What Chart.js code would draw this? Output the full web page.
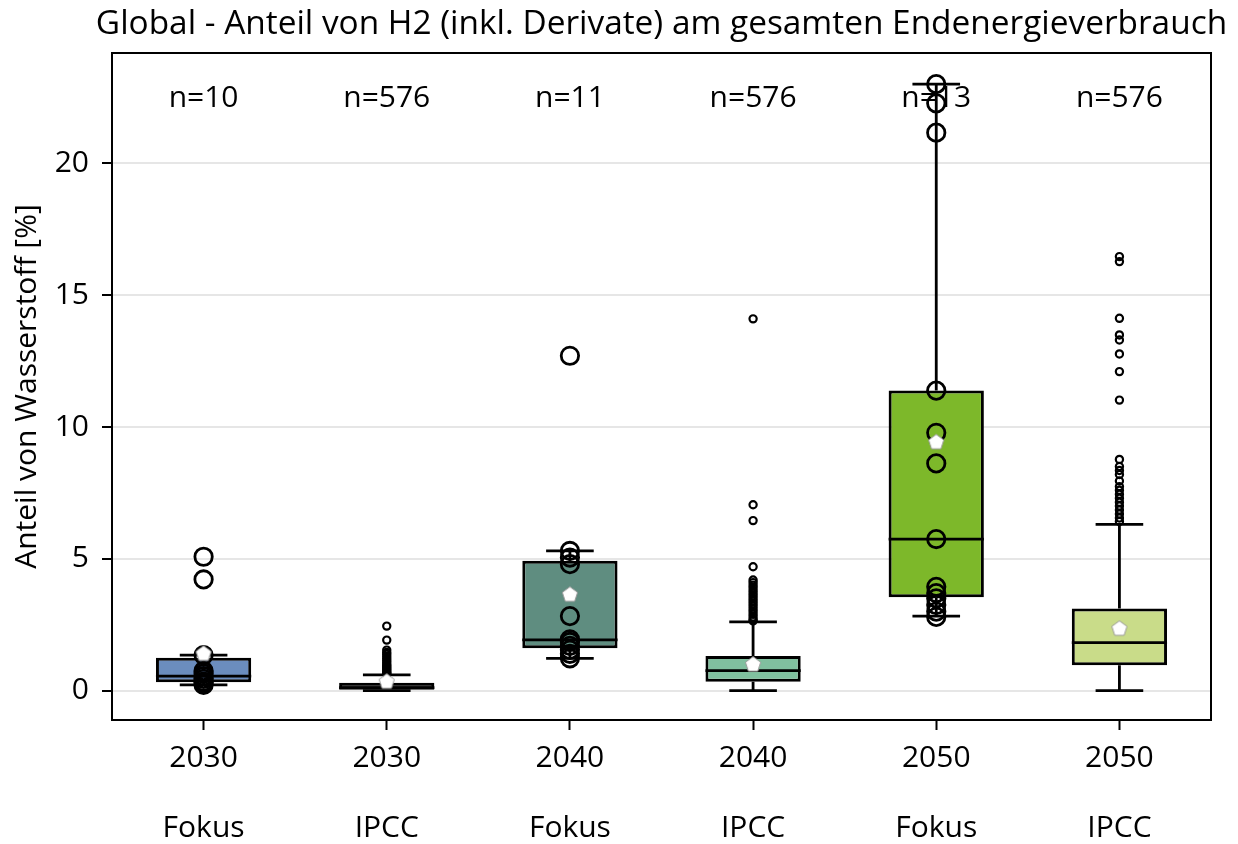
<!DOCTYPE html>
<html><head><meta charset="utf-8">
<script src="https://cdn.jsdelivr.net/npm/chart.js@4.4.1/dist/chart.umd.min.js"></script>
<style>html,body{margin:0;padding:0;background:#fff}</style>
</head><body>
<canvas id="c" width="1238" height="844"></canvas>
<script>
// ---------- data ----------
const titleText = 'Global - Anteil von H2 (inkl. Derivate) am gesamten Endenergieverbrauch';
const yTitle = 'Anteil von Wasserstoff [%]';
const years  = ['2030','2030','2040','2040','2050','2050'];
const groups = ['Fokus','IPCC','Fokus','IPCC','Fokus','IPCC'];
const nLabels = ['n=10','n=576','n=11','n=576','n=13','n=576'];
const nLabelValue = 22.47;

const q1          = [0.32, 0.00, 1.61, 0.34, 3.54, 0.97];
const median      = [0.55, 0.12, 1.93, 0.76, 5.75, 1.82];
const q3          = [1.25, 0.30, 4.93, 1.32, 11.38, 3.12];
const whiskerLow  = [0.22, 0.00, 1.23, 0.00, 2.83, 0.00];
const whiskerHigh = [1.35, 0.60, 5.30, 2.61, 23.00, 6.31];
const means       = [1.42, 0.36, 3.66, 1.01, 9.44, 2.37];

// all points of the focus studies (index 0, 2, 4)
const fokus2030 = [5.08, 4.22, 1.35, 0.75, 0.65, 0.55, 0.45, 0.35, 0.30, 0.22];
const fokus2040 = [12.70, 5.30, 5.05, 4.80, 2.83, 1.95, 1.85, 1.70, 1.55, 1.40, 1.23];
const fokus2050 = [23.00, 22.27, 21.16, 11.38, 9.78, 8.62, 5.75, 3.94, 3.70, 3.50, 3.25, 3.00, 2.80];

// outliers of the IPCC scenarios (index 1, 3, 5)
const ipcc2030 = [2.45, 1.92, 1.54, 1.45, 1.38, 1.30, 1.22, 1.15, 1.08, 1.00, 0.95, 0.90, 0.85, 0.80, 0.75, 0.70, 0.66, 0.63];
const ipcc2040 = [14.10, 7.05, 6.45, 4.70, 4.20, 4.10, 4.00, 3.90, 3.80, 3.70, 3.60, 3.50, 3.40, 3.30, 3.20, 3.10, 3.00, 2.90, 2.80, 2.70, 2.65];
const ipcc2050 = [16.46, 16.27, 14.12, 13.49, 13.30, 12.77, 12.10, 11.02, 8.77, 8.50, 8.35, 8.20, 7.95, 7.74, 7.60, 7.45, 7.30, 7.15, 7.00, 6.85, 6.70, 6.55, 6.42];

const yTicks = [0, 5, 10, 15, 20];
const yMin = -1.11, yMax = 24.18;

const boxColors = ['#6b8dbe', '#1a1a1a', '#5f8d80', '#80c09f', '#7db82a', '#c9dc89'];

// ---------- styling ----------
const FONT = "'Open Sans', 'Noto Sans', sans-serif";
const FS = 30;
const TITLE_FS = 33.4;
const LW = 2.8;
Chart.defaults.font.family = FONT;
Chart.defaults.font.size = FS;
Chart.defaults.color = '#000';

const labels = years.map((y, i) => [y, '', groups[i]]);
// use the label objects themselves as x so the category scale maps them to the right slot
const toPts = (arr, idx) => arr.map(v => ({x: labels[idx], y: v}));

// pentagon marker for the mean
const pent = document.createElement('canvas');
pent.width = 20; pent.height = 20;
(function(){
  const g = pent.getContext('2d');
  g.beginPath();
  for (let k = 0; k < 5; k++) {
    const a = -Math.PI/2 + k * 2*Math.PI/5;
    const px = 10 + 8 * Math.cos(a), py = 10.6 + 8 * Math.sin(a);
    k ? g.lineTo(px, py) : g.moveTo(px, py);
  }
  g.closePath();
  g.fillStyle = '#fff'; g.fill();
  g.strokeStyle = '#9a9a9a'; g.lineWidth = 1; g.stroke();
})();

const boxPlugin = {
  id: 'boxExtras',
  beforeDatasetsDraw(chart) {
    const {ctx, scales: {x, y}} = chart;
    ctx.save();
    ctx.font = `${FS}px ${FONT}`;
    ctx.fillStyle = '#000';
    ctx.textAlign = 'center';
    ctx.textBaseline = 'middle';
    nLabels.forEach((t, i) => ctx.fillText(t, x.getPixelForValue(i), y.getPixelForValue(nLabelValue)));
    const meta = chart.getDatasetMeta(0);
    ctx.strokeStyle = '#000';
    ctx.lineWidth = LW;
    meta.data.forEach((bar, i) => {
      const cx = bar.x, half = bar.width / 4;
      const yl = y.getPixelForValue(whiskerLow[i]), yh = y.getPixelForValue(whiskerHigh[i]);
      const yq1 = y.getPixelForValue(q1[i]), yq3 = y.getPixelForValue(q3[i]);
      ctx.beginPath();
      ctx.moveTo(cx, yq3); ctx.lineTo(cx, yh);
      ctx.moveTo(cx, yq1); ctx.lineTo(cx, yl);
      ctx.moveTo(cx - half, yh); ctx.lineTo(cx + half, yh);
      ctx.moveTo(cx - half, yl); ctx.lineTo(cx + half, yl);
      ctx.stroke();
    });
    ctx.restore();
  },
  afterDatasetDraw(chart, args) {
    if (args.index !== 0) return;
    const {ctx, scales: {y}} = chart;
    ctx.save();
    ctx.strokeStyle = '#000';
    ctx.lineWidth = LW;
    args.meta.data.forEach((bar, i) => {
      const ym = y.getPixelForValue(median[i]);
      ctx.beginPath();
      ctx.moveTo(bar.x - bar.width / 2, ym);
      ctx.lineTo(bar.x + bar.width / 2, ym);
      ctx.stroke();
    });
    ctx.restore();
  },
  afterDraw(chart) {
    const {ctx, chartArea: a} = chart;
    ctx.save();
    ctx.strokeStyle = '#000';
    ctx.lineWidth = 2;
    ctx.strokeRect(a.left, a.top, a.right - a.left, a.bottom - a.top);
    // chart title, centred over the plot area
    ctx.font = `${TITLE_FS}px ${FONT}`;
    ctx.fillStyle = '#000';
    ctx.textAlign = 'center';
    ctx.textBaseline = 'middle';
    ctx.fillText(titleText, (a.left + a.right) / 2, a.top - 29);
    ctx.restore();
  }
};

new Chart(document.getElementById('c'), {
  type: 'bar',
  data: {
    labels,
    datasets: [
      {
        type: 'bar',
        data: q1.map((v, i) => [v, q3[i]]),
        backgroundColor: boxColors,
        borderColor: '#000',
        borderWidth: 3,
        borderSkipped: false,
        barPercentage: 0.52,
        categoryPercentage: 1,
        order: 3
      },
      {
        type: 'line',
        showLine: false,
        data: [...toPts(fokus2030, 0), ...toPts(fokus2040, 2), ...toPts(fokus2050, 4)],
        pointRadius: 8.7,
        pointBorderWidth: 2.8,
        pointBorderColor: '#000',
        pointBackgroundColor: 'rgba(0,0,0,0)',
        order: 2
      },
      {
        type: 'line',
        showLine: false,
        data: [...toPts(ipcc2030, 1), ...toPts(ipcc2040, 3), ...toPts(ipcc2050, 5)],
        pointRadius: 3.6,
        pointBorderWidth: 2.2,
        pointBorderColor: '#000',
        pointBackgroundColor: 'rgba(0,0,0,0)',
        order: 2
      },
      {
        type: 'line',
        showLine: false,
        data: means.map((v, i) => ({x: labels[i], y: v})),
        pointStyle: pent,
        order: 1
      }
    ]
  },
  options: {
    responsive: false,
    animation: false,
    devicePixelRatio: 1,
    layout: {padding: {left: 0, right: 27, top: 53, bottom: 0}},
    plugins: {
      legend: {display: false},
      tooltip: {enabled: false},
      title: {display: false}
    },
    scales: {
      x: {
        type: 'category',
        offset: true,
        grid: {display: true, drawOnChartArea: false, drawTicks: true, offset: false,
               tickLength: 10, tickColor: '#000', tickWidth: 2},
        border: {display: false},
        ticks: {maxRotation: 0, autoSkip: false, padding: 10.5,
                font: {size: FS, lineHeight: 1.167}, color: '#000'},
        afterFit(s) { s.height = 124; }
      },
      y: {
        min: yMin, max: yMax,
        grid: {color: '#e6e6e6', lineWidth: 2, tickLength: 10, tickColor: '#000', tickWidth: 2},
        border: {display: false},
        ticks: {padding: 13, color: '#000', font: {size: FS}},
        afterBuildTicks(s) { s.ticks = yTicks.map(v => ({value: v})); },
        title: {display: true, text: yTitle, color: '#000',
                font: {size: FS, lineHeight: 1.2}, padding: {top: 9, bottom: 0}},
        afterFit(s) { s.width = 112; }
      }
    }
  },
  plugins: [boxPlugin]
});
</script>
</body></html>
